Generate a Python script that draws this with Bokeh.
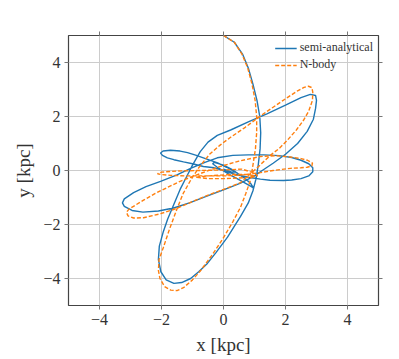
from bokeh.plotting import figure
from bokeh.models import FixedTicker, LinearAxis
from bokeh.embed import file_html
from bokeh.resources import INLINE

# semi-analytical orbit (x, y) in kpc
sa_x = [0.0, 0.35, 0.62, 0.8, 0.95, 1.08, 1.17, 1.2, 1.18, 1.12, 1.05, 0.95, 0.8, 0.55, 0.13, -0.25, -0.52, -0.8, -1.06, -1.35, -1.6, -1.85, -2.02, -2.1,
        -2.07, -1.95, -1.8, -1.6, -1.4, -1.2, -1.0, -0.75, -0.5, -0.2, 0.23, 0.8, 1.4, 2.0, 2.5, 2.8, 2.97, 3.0,
        2.97, 2.9, 2.7, 2.39, 2.0, 1.6, 1.25, 1.0, 0.55, 0.0, -0.6, -1.1, -1.61, -2.1, -2.6, -2.95, -3.2, -3.26,
        -3.2, -2.9, -2.5, -2.03, -1.5, -1.06, -0.6, -0.2, 0.3, 0.8, 1.3, 1.8, 2.2, 2.5, 2.75, 2.88, 2.88, 2.75,
        2.5, 2.2, 1.94, 1.5, 1.19, 0.8, 0.4, 0.0, -0.3, -0.65, -1.0, -1.29, -1.6, -1.81, -1.97, -2.03,
        -1.95, -1.71, -1.4, -1.16, -0.9, -0.65, -0.19, 0.1, 0.45, 0.7, 0.87, 0.97,
        0.9, 0.6, 0.2, -0.2, -0.35, -0.3, 0.0, 0.3, 0.4, 0.25, 0.0]
sa_y = [5.0, 4.75, 4.3, 3.8, 3.2, 2.6, 2.0, 1.4, 0.8, 0.2, -0.3, -0.75, -1.2, -1.7, -2.47, -3.05, -3.44, -3.75, -4.0, -4.15, -4.18, -4.05, -3.75, -3.3,
        -2.8, -2.3, -1.8, -1.25, -0.7, -0.25, 0.2, 0.7, 1.05, 1.3, 1.5, 1.8, 2.1, 2.42, 2.7, 2.82, 2.78, 2.6,
        2.3, 1.9, 1.45, 1.0, 0.6, 0.27, 0.0, -0.2, -0.47, -0.72, -0.98, -1.2, -1.39, -1.5, -1.54, -1.48, -1.33, -1.2,
        -1.05, -0.82, -0.6, -0.4, -0.16, 0.08, 0.3, 0.47, 0.56, 0.58, 0.58, 0.55, 0.48, 0.38, 0.25, 0.1, -0.05, -0.2,
        -0.3, -0.35, -0.37, -0.36, -0.32, -0.25, -0.15, 0.0, 0.1, 0.15, 0.25, 0.32, 0.4, 0.47, 0.56, 0.65,
        0.72, 0.75, 0.72, 0.66, 0.57, 0.47, 0.28, 0.12, -0.1, -0.3, -0.47, -0.65,
        -0.6, -0.4, -0.15, 0.12, 0.25, 0.3, 0.2, 0.02, -0.06, -0.05, 0.05]

# N-body orbit (x, y) in kpc
nb_x = [0.0, 0.35, 0.6, 0.78, 0.92, 1.02, 1.07, 1.07, 1.03, 0.95, 0.87, 0.72, 0.55, 0.3, 0.0, -0.35, -0.74, -1.0, -1.29, -1.5, -1.7, -1.9, -2.05, -2.1, -2.08,
        -1.94, -1.75, -1.48, -1.3, -1.06, -0.8, -0.45, -0.1, 0.23, 0.7, 1.29, 1.9, 2.39, 2.6, 2.74, 2.85, 2.88,
        2.87, 2.75, 2.58, 2.35, 2.06, 1.8, 1.52, 1.15, 0.77, 0.55, 0.0, -0.52, -1.0, -1.5, -2.03, -2.58, -2.9, -3.08, -3.13,
        -3.05, -2.58, -2.2, -1.8, -1.4, -1.06, -0.6, -0.1, 0.5, 1.19, 1.7, 2.16, 2.5, 2.71, 2.87, 2.85, 2.7,
        2.5, 2.16, 1.6, 1.19, 0.55, 0.0, -0.6, -1.2, -1.7, -2.0, -2.13,
        -2.0, -1.5, -0.8, 0.0, 0.6, 1.0, 1.1, 0.9, 0.5, 0.0, -0.5, -0.9, -0.5, 0.2, 0.8, 1.0]
nb_y = [5.0, 4.75, 4.3, 3.8, 3.2, 2.6, 2.0, 1.4, 0.8, 0.2, -0.36, -0.85, -1.36, -1.9, -2.49, -3.1, -3.71, -4.05, -4.34, -4.45, -4.43, -4.3, -4.0, -3.7, -3.3,
        -2.85, -2.2, -1.36, -0.85, -0.36, 0.1, 0.6, 0.95, 1.23, 1.6, 2.1, 2.58, 2.95, 3.08, 3.12, 3.07, 2.9,
        2.6, 2.2, 1.86, 1.5, 1.12, 0.82, 0.57, 0.17, -0.22, -0.45, -0.7, -0.92, -1.15, -1.4, -1.6, -1.75, -1.76, -1.68, -1.55,
        -1.43, -1.1, -0.85, -0.62, -0.4, -0.25, -0.05, 0.15, 0.35, 0.52, 0.55, 0.5, 0.44, 0.38, 0.27, 0.17, 0.12,
        0.1, 0.08, 0.0, -0.08, -0.17, -0.2, -0.2, -0.2, -0.18, -0.15, -0.12,
        -0.06, -0.02, 0.0, 0.02, 0.05, -0.1, -0.2, -0.25, -0.28, -0.3, -0.3, -0.25, -0.2, -0.15, -0.15, -0.2]

ticks = [-4, -2, 0, 2, 4]
tick_labels = {-4: "\u22124", -2: "\u22122", 0: "0", 2: "2", 4: "4"}
blank_labels = {t: "" for t in ticks}

FONT = "Liberation Serif"
BLUE = "#1f77b4"
ORANGE = "#ff7f0e"

p = figure(width=399, height=359, x_range=(-5, 5), y_range=(-5, 5),
           output_backend="svg", toolbar_location=None,
           min_border_left=68, min_border_right=21, min_border_top=35, min_border_bottom=54)
p.background_fill_color = "white"
p.border_fill_color = "white"
p.outline_line_color = "#444444"
p.outline_line_width = 1.2

bottom_axis = p.below[0]
left_axis = p.left[0]
top_axis = LinearAxis()
right_axis = LinearAxis()
p.add_layout(top_axis, "above")
p.add_layout(right_axis, "right")

for ax in (bottom_axis, left_axis, top_axis, right_axis):
    ax.ticker = FixedTicker(ticks=ticks)
    ax.axis_line_color = None
    ax.major_tick_line_color = "#777777"
    ax.major_tick_out = 4
    ax.major_tick_in = 0
    ax.minor_tick_line_color = None
    ax.major_label_text_font = FONT
    ax.major_label_text_font_size = "16px"
    ax.major_label_text_color = "#333333"
    ax.major_label_overrides = tick_labels
    ax.major_label_standoff = 4

for ax in (top_axis, right_axis):
    ax.major_label_overrides = blank_labels
    ax.major_label_standoff = 0

bottom_axis.axis_label = "x [kpc]"
left_axis.axis_label = "y [kpc]"
for ax in (bottom_axis, left_axis):
    ax.axis_label_text_font = FONT
    ax.axis_label_text_font_size = "19px"
    ax.axis_label_text_font_style = "normal"
    ax.axis_label_text_color = "#333333"
    ax.axis_label_standoff = 6

for g in (p.xgrid[0], p.ygrid[0]):
    g.ticker = FixedTicker(ticks=ticks)
    g.grid_line_color = "#cccccc"
    g.grid_line_width = 1

p.line(sa_x, sa_y, color=BLUE, line_width=1.4, legend_label="semi-analytical")
p.line(nb_x, nb_y, color=ORANGE, line_width=1.4, line_dash="4 2", legend_label="N-body")

lg = p.legend[0]
lg.location = "top_right"
lg.border_line_color = None
lg.background_fill_alpha = 0
lg.label_text_font = FONT
lg.label_text_font_size = "12px"
lg.label_text_color = "#333333"
lg.glyph_width = 22
lg.glyph_height = 14
lg.label_height = 14
lg.spacing = 2
lg.padding = 3
lg.margin = 5
lg.label_standoff = 3

open("out.html", "w").write(file_html(p, INLINE))
